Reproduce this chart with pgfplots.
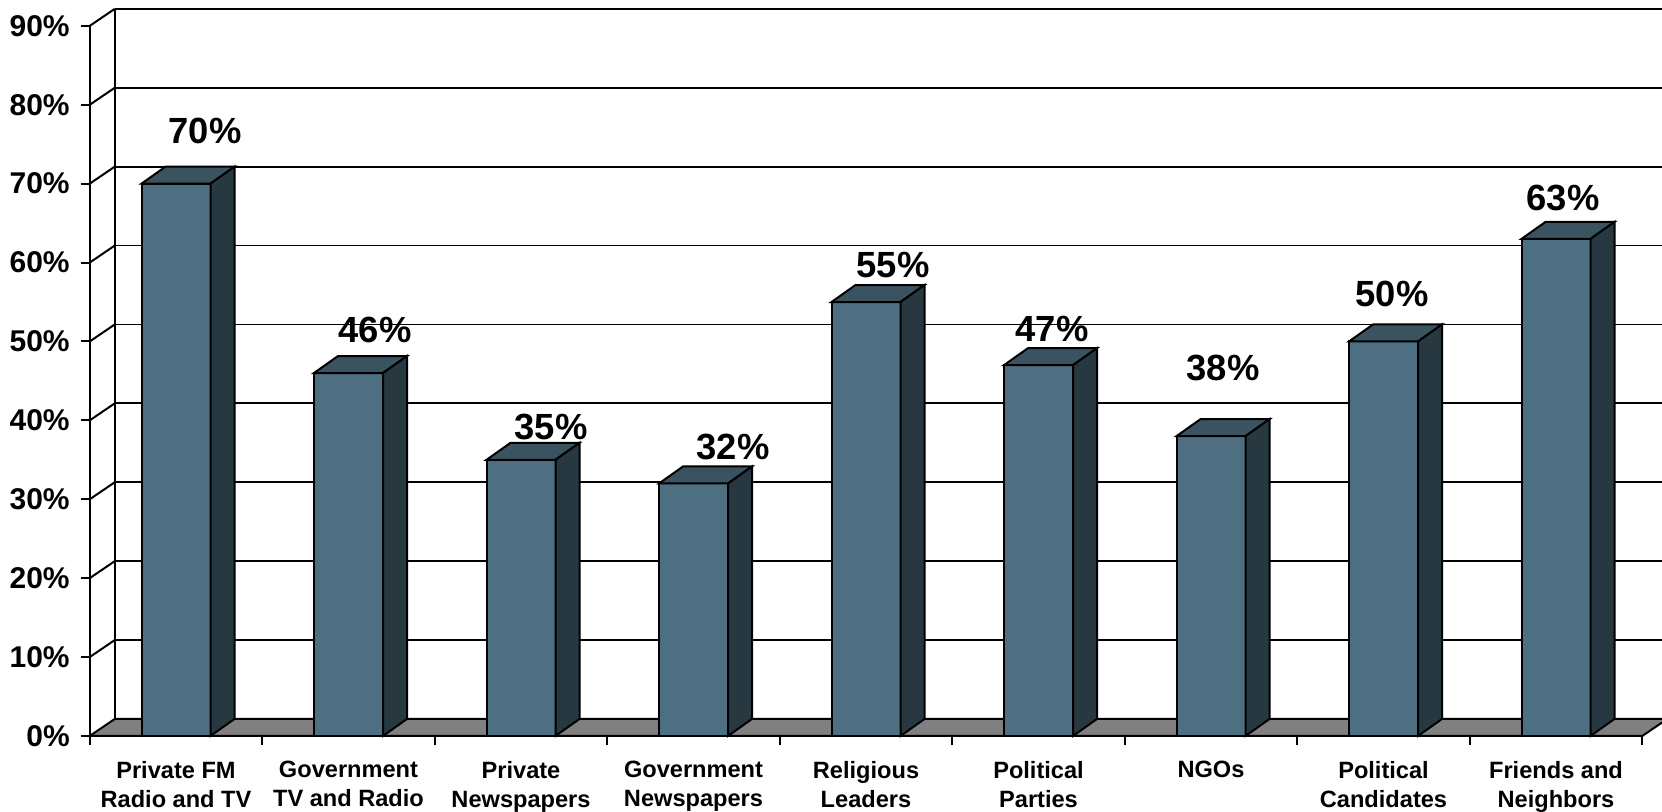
\documentclass[border=0pt]{standalone}
\usepackage{pgfplots}
\pgfplotsset{compat=1.18}
\usepackage{pgfplotstable}
\usepackage{fontspec}
\setmainfont{Liberation Sans}
\definecolor{barfront}{RGB}{78,110,130}
\definecolor{bartop}{RGB}{58,83,97}
\definecolor{barside}{RGB}{40,56,65}
\definecolor{floorgray}{RGB}{128,128,128}

\pgfdeclareplotmark{bar3d}{%
  \pgfmathsetmacro\hh{\rawy*3.945}%
  \pgfsetlinewidth{1pt}%
  \pgfsetstrokecolor{black}%
  % top face
  \pgfpathmoveto{\pgfqpoint{-17.25pt}{0pt}}%
  \pgfpathlineto{\pgfqpoint{17.25pt}{0pt}}%
  \pgfpathlineto{\pgfqpoint{29.25pt}{8.5pt}}%
  \pgfpathlineto{\pgfqpoint{-5.25pt}{8.5pt}}%
  \pgfpathclose
  \pgfsetfillcolor{bartop}%
  \pgfusepath{fill,stroke}%
  % side face
  \pgfpathmoveto{\pgfqpoint{17.25pt}{0pt}}%
  \pgfpathlineto{\pgfqpoint{29.25pt}{8.5pt}}%
  \pgfpathlineto{\pgfpoint{29.25pt}{8.5pt-\hh pt}}%
  \pgfpathlineto{\pgfpoint{17.25pt}{-\hh pt}}%
  \pgfpathclose
  \pgfsetfillcolor{barside}%
  \pgfusepath{fill,stroke}%
}

\pgfplotstableread{
x v lx ly
0 70 0.168 76.68
1 46 1.154 51.46
2 35 2.174 39.16
3 32 3.229 36.63
4 55 4.157 59.70
5 47 5.078 51.58
6 38 6.070 46.64
7 50 7.049 56.02
8 63 8.041 68.19
}\data

\begin{document}
\begin{tikzpicture}
\begin{axis}[
  x=86.25pt, y=3.945pt,
  xmin=-0.5, xmax=8.5, ymin=0, ymax=90,
  enlargelimits=false,
  clip=false,
  axis x line*=bottom, axis y line*=left,
  axis line style={-, line width=1pt, black},
  tick align=outside,
  major tick length=4.5pt,
  tick style={line width=1pt, black},
  ytick={0,10,...,90},
  yticklabel={\pgfmathprintnumber{\tick}\%},
  /pgf/number format/assume math mode=true,
  yticklabel style={font=\fontsize{15}{16}\selectfont\bfseries, xshift=-2pt},
  xtick={-0.5,0.5,...,8.5},
  xticklabels={},
  extra x ticks={0,1,...,8},
  extra x tick style={major tick length=0pt},
  extra x tick labels={{Private FM\\Radio and TV},{Government\\TV and Radio},{Private\\Newspapers},{Government\\Newspapers},{Religious\\Leaders},{Political\\Parties},{NGOs},{Political\\Candidates},{Friends and\\Neighbors}},
  xticklabel style={align=center, font=\fontsize{11.8}{14.5}\selectfont\bfseries, anchor=north, yshift=-9pt},
  ymajorgrids,
  major grid style={line width=0.9pt, black, shift={(12.5pt,8.5pt)}},
]
% floor
\filldraw[fill=floorgray, line width=1pt] (axis cs:-0.5,0) -- (axis cs:8.5,0) -- ([shift={(12.5pt,8.5pt)}]axis cs:8.5,0) -- ([shift={(12.5pt,8.5pt)}]axis cs:-0.5,0) -- cycle;
% back wall left edge
\draw[line width=1pt] ([shift={(12.5pt,8.5pt)}]axis cs:-0.5,0) -- ([shift={(12.5pt,8.5pt)}]axis cs:-0.5,90);
% left wall slants
\pgfplotsinvokeforeach{10,20,...,90}{\draw[line width=1pt] (axis cs:-0.5,#1) -- ++(12.5pt,8.5pt);}
% front faces
\addplot[ybar, bar width=34.5pt, bar shift=0pt, fill=barfront, draw=black, line width=1pt] table[x=x, y=v] \data;
% top and side faces
\addplot[only marks, mark=bar3d, visualization depends on={rawy \as \rawy}] table[x=x, y=v] \data;
% value labels
\addplot[draw=none, mark=none, point meta=explicit,
  nodes near coords={\pgfmathprintnumber{\pgfplotspointmeta}\%},
  every node near coord/.append style={anchor=center, inner sep=0pt, font=\fontsize{18.2}{20}\selectfont\bfseries}]
  table[x=lx, y=ly, meta=v] \data;
\coordinate (bbl) at (axis cs:-1.0203,-9.63);
\coordinate (btr) at (axis cs:8.6145,93.28);
\end{axis}
\pgfresetboundingbox
\path[use as bounding box] (bbl) rectangle (btr);
\end{tikzpicture}
\end{document}
